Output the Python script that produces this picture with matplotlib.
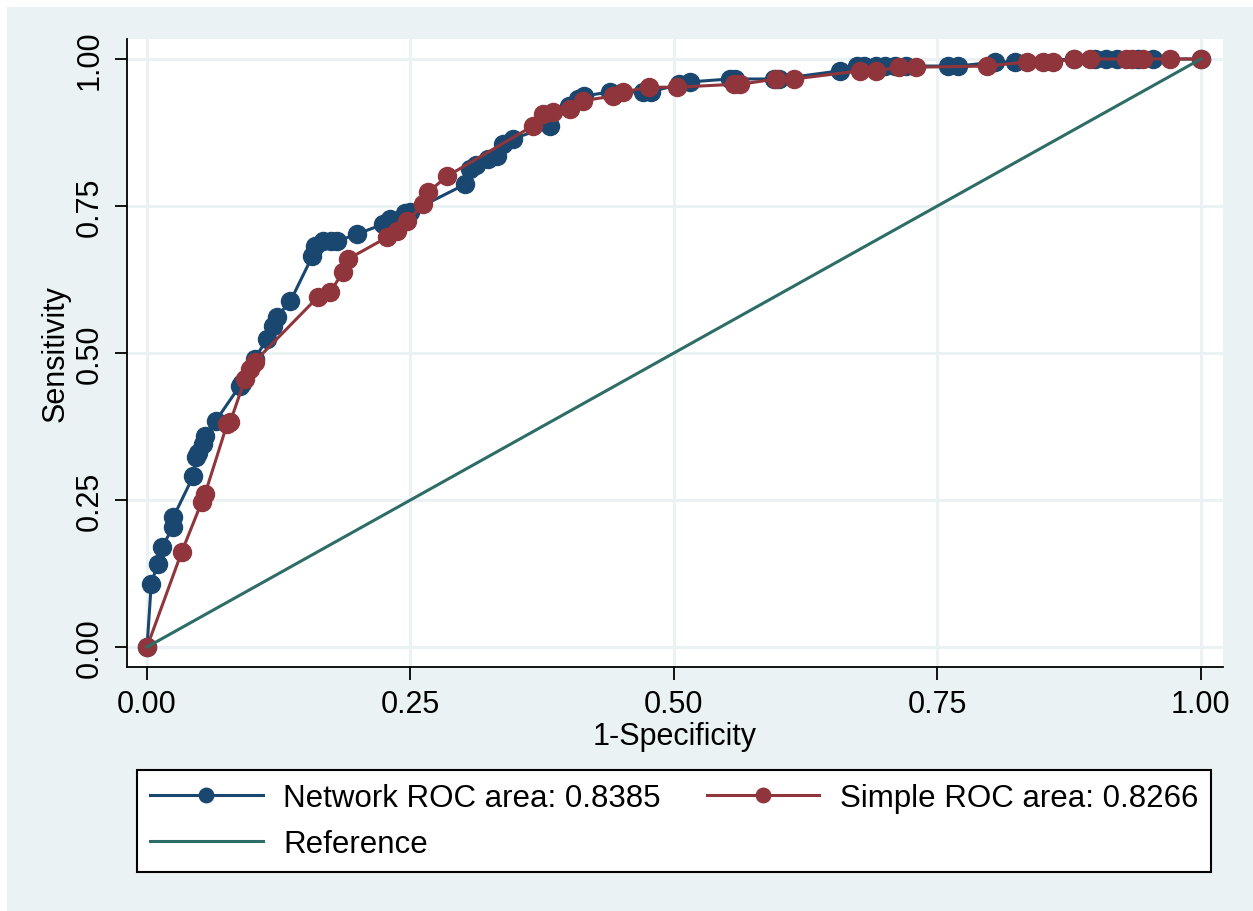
import matplotlib.pyplot as plt
from matplotlib.patches import Rectangle

plt.rcParams['font.family'] = ['Liberation Sans', 'DejaVu Sans']

# ROC coordinates (1-specificity, sensitivity)
net_fpr = [0.000, 0.004, 0.010, 0.014, 0.025, 0.025, 0.044, 0.046, 0.048, 0.053,
           0.055, 0.065, 0.088, 0.090, 0.102, 0.114, 0.120, 0.123, 0.136, 0.157,
           0.159, 0.167, 0.175, 0.180, 0.199, 0.224, 0.231, 0.245, 0.250, 0.302,
           0.306, 0.312, 0.324, 0.332, 0.338, 0.347, 0.382, 0.400, 0.409, 0.415,
           0.439, 0.471, 0.478, 0.505, 0.515, 0.553, 0.558, 0.595, 0.600, 0.658,
           0.674, 0.680, 0.692, 0.700, 0.710, 0.720, 0.760, 0.770, 0.805, 0.824,
           0.880, 0.900, 0.910, 0.920, 0.940, 0.955, 1.000]
net_tpr = [0.000, 0.107, 0.141, 0.170, 0.204, 0.221, 0.291, 0.323, 0.330, 0.345,
           0.359, 0.384, 0.444, 0.449, 0.490, 0.524, 0.546, 0.561, 0.588, 0.665,
           0.682, 0.690, 0.690, 0.690, 0.702, 0.719, 0.728, 0.738, 0.740, 0.787,
           0.813, 0.820, 0.830, 0.835, 0.855, 0.864, 0.886, 0.920, 0.932, 0.937,
           0.944, 0.944, 0.944, 0.957, 0.961, 0.966, 0.966, 0.966, 0.966, 0.980,
           0.988, 0.988, 0.988, 0.988, 0.988, 0.988, 0.988, 0.988, 0.995, 0.995,
           1.000, 1.000, 1.000, 1.000, 1.000, 1.000, 1.000]

simple_fpr = [0.000, 0.033, 0.052, 0.055, 0.076, 0.079, 0.093, 0.098, 0.102, 0.162,
              0.174, 0.186, 0.191, 0.228, 0.237, 0.247, 0.262, 0.267, 0.285, 0.366,
              0.376, 0.385, 0.401, 0.414, 0.442, 0.452, 0.476, 0.503, 0.557, 0.563,
              0.597, 0.614, 0.677, 0.692, 0.714, 0.730, 0.797, 0.835, 0.850, 0.860,
              0.880, 0.895, 0.929, 0.935, 0.945, 0.971, 1.000]
simple_tpr = [0.000, 0.162, 0.247, 0.260, 0.379, 0.383, 0.456, 0.473, 0.485, 0.595,
              0.604, 0.638, 0.660, 0.697, 0.707, 0.724, 0.753, 0.774, 0.801, 0.886,
              0.906, 0.910, 0.915, 0.929, 0.937, 0.944, 0.952, 0.952, 0.957, 0.957,
              0.966, 0.966, 0.980, 0.980, 0.986, 0.986, 0.988, 0.995, 0.995, 0.995,
              1.000, 1.000, 1.000, 1.000, 1.000, 1.000, 1.000]

ref_x = [0, 1]
ref_y = [0, 1]

ticks = [0.0, 0.25, 0.5, 0.75, 1.0]
tick_labels = ['0.00', '0.25', '0.50', '0.75', '1.00']

navy = '#1a476f'
maroon = '#90353b'
teal = '#2d6d66'
bg = '#eaf2f3'

W, H = 1253, 912
fig = plt.figure(figsize=(W / 100, H / 100), dpi=100)
fig.patch.set_facecolor('white')
fig.patches.append(Rectangle((7 / W, 0), 1 - 7 / W, 1 - 8 / H, transform=fig.transFigure,
                             facecolor=bg, edgecolor='none', zorder=-10))

ax = fig.add_axes([127 / W, 1 - 668 / H, (1223 - 127) / W, (668 - 40) / H])
ax.set_facecolor('white')

h_net, = ax.plot(net_fpr, net_tpr, '-o', color=navy, lw=2.2, ms=13, mec=navy,
                 label='Network ROC area: 0.8385', zorder=3)
h_simple, = ax.plot(simple_fpr, simple_tpr, '-o', color=maroon, lw=2.2, ms=13, mec=maroon,
                    label='Simple ROC area: 0.8266', zorder=4)
h_ref, = ax.plot(ref_x, ref_y, '-', color=teal, lw=2.2, label='Reference', zorder=5)

ax.set_xlim(-0.019, 1.021)
ax.set_ylim(-0.034, 1.034)
ax.set_xticks(ticks)
ax.set_xticklabels(tick_labels)
ax.set_yticks(ticks)
ax.set_yticklabels(tick_labels, rotation=90, va='center')
ax.tick_params(labelsize=22, length=9, width=1.3, pad=7)
ax.grid(True, color=bg, lw=2.2, zorder=0)
ax.set_axisbelow(True)

for side in ['top', 'right']:
    ax.spines[side].set_visible(False)
for side in ['left', 'bottom']:
    ax.spines[side].set_linewidth(1.3)

ax.set_xlabel('1-Specificity', fontsize=22, labelpad=1)
ax.set_ylabel('Sensitivity', fontsize=22, labelpad=3)

# legend filled column-wise: row 1 holds both ROC curves, row 2 the reference
handles = [h_net, h_ref, h_simple]
leg = fig.legend(handles, [h.get_label() for h in handles], loc='lower left', ncol=2,
                 fontsize=22.5,
                 bbox_to_anchor=(137 / W, 1 - 873 / H, (1211 - 137) / W, (873 - 771) / H),
                 mode='expand', borderaxespad=0, handlelength=3.6, handletextpad=0.65,
                 borderpad=0.42, labelspacing=0.52, markerscale=0.8,
                 fancybox=False, framealpha=1, edgecolor='black')
leg.get_frame().set_linewidth(1.5)

fig.savefig('out.png', dpi=100)
